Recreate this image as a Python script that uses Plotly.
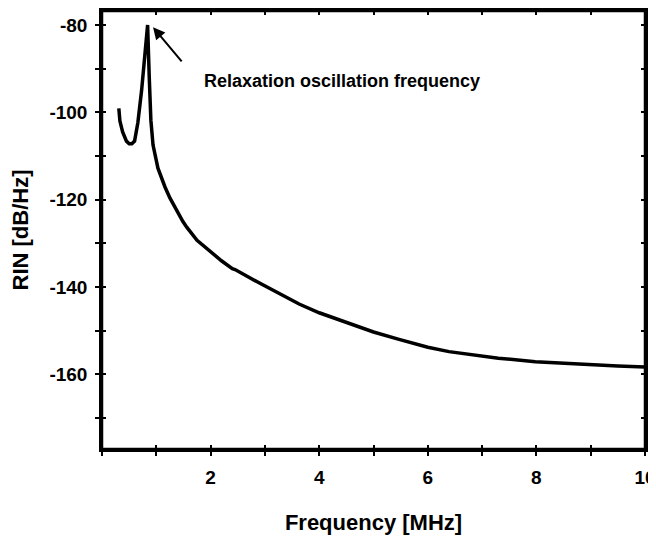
import plotly.graph_objects as go

# RIN spectrum
FREQ_MHZ = [
    0.31, 0.33, 0.38, 0.45, 0.50, 0.55, 0.60, 0.66, 0.73, 0.79, 0.84,
    0.87, 0.90, 0.94, 1.03, 1.16, 1.25, 1.49, 1.56, 1.75, 1.98, 2.20,
    2.40, 2.45, 2.90, 3.32, 3.63, 4.00, 4.55, 5.00, 5.47, 6.00, 6.39,
    7.30, 7.98, 8.90, 9.50, 10.00,
]
RIN_DB = [
    -99.1, -102.0, -104.5, -106.6, -107.2, -107.2, -106.6, -102.4, -94.9, -85.7, -80.0,
    -91.9, -101.8, -107.5, -112.8, -117.1, -119.6, -125.0, -126.3, -129.3, -131.8, -134.0,
    -135.8, -136.0, -139.1, -141.8, -143.9, -145.9, -148.4, -150.3, -152.0, -153.8, -154.8,
    -156.3, -157.1, -157.8, -158.1, -158.3,
]

X_TICKS = [0, 1, 2, 3, 4, 5, 6, 7, 8, 9, 10]
X_TICK_TEXT = ["", "", "2", "", "4", "", "6", "", "8", "", "10"]
Y_TICKS = [-170, -160, -150, -140, -130, -120, -110, -100, -90, -80]
Y_TICK_TEXT = ["", "-160", "", "-140", "", "-120", "", "-100", "", "-80"]

X_RANGE = [0, 10]
Y_RANGE = [-177.1, -76.8]

PEAK_LABEL = "Relaxation oscillation frequency"
FONT = "Arial, 'Liberation Sans', sans-serif"


def main():
    fig = go.Figure()
    fig.add_trace(go.Scatter(
        x=FREQ_MHZ, y=RIN_DB, mode="lines",
        line=dict(color="black", width=3.5),
        showlegend=False,
    ))
    # invisible trace so the second (inside-tick) axes get drawn
    fig.add_trace(go.Scatter(
        x=[X_RANGE[0]], y=[Y_RANGE[0]], xaxis="x2", yaxis="y2",
        mode="markers", marker=dict(opacity=0), showlegend=False, hoverinfo="skip",
    ))

    tick_font = dict(family=FONT, size=19, color="black", weight="bold")
    title_font = dict(family=FONT, size=22, color="black", weight="bold")
    frame = dict(showline=True, linecolor="black", linewidth=2.5, mirror="ticks")

    # page body has an 8px margin, so the figure is 8px smaller than the window
    fig.update_layout(
        width=648, height=528,
        margin=dict(l=94, r=11, t=3, b=87),
        paper_bgcolor="white", plot_bgcolor="white",
        xaxis=dict(
            range=X_RANGE, tickvals=X_TICKS, ticktext=X_TICK_TEXT, **frame,
            ticks="outside", ticklen=4, tickwidth=2, tickcolor="black",
            showgrid=False, zeroline=False, tickfont=tick_font,
            ticklabelstandoff=5, automargin=False, ticklabeloverflow="allow",
            title=dict(text="Frequency [MHz]", font=title_font, standoff=29),
        ),
        yaxis=dict(
            range=Y_RANGE, tickvals=Y_TICKS, ticktext=Y_TICK_TEXT, **frame,
            ticks="outside", ticklen=4, tickwidth=2, tickcolor="black",
            showgrid=False, zeroline=False, tickfont=tick_font,
            ticklabelstandoff=4, automargin=False,
            title=dict(text="RIN [dB/Hz]", font=title_font, standoff=15),
        ),
        xaxis2=dict(
            range=X_RANGE, tickvals=X_TICKS, overlaying="x", side="bottom", **frame,
            ticks="inside", ticklen=4, tickwidth=2, tickcolor="black",
            showticklabels=False, showgrid=False, zeroline=False, automargin=False,
        ),
        yaxis2=dict(
            range=Y_RANGE, tickvals=Y_TICKS, overlaying="y", side="left", **frame,
            ticks="inside", ticklen=4, tickwidth=2, tickcolor="black",
            showticklabels=False, showgrid=False, zeroline=False, automargin=False,
        ),
        # plot frame
        shapes=[dict(
            type="rect", xref="paper", yref="paper", x0=0, y0=0, x1=1, y1=1,
            line=dict(color="black", width=2.5), fillcolor="rgba(0,0,0,0)",
        )],
        annotations=[
            dict(
                x=0.94, y=-80.5, ax=1.49, ay=-88.7,
                xref="x", yref="y", axref="x", ayref="y",
                showarrow=True, arrowhead=2, arrowsize=1.2, arrowwidth=2,
                arrowcolor="black", text="",
            ),
            dict(
                x=1.85, y=-92.8, xref="x", yref="y",
                xanchor="left", yanchor="middle", showarrow=False,
                text=PEAK_LABEL,
                font=dict(family=FONT, size=18, color="black", weight="bold"),
            ),
        ],
    )

    fig.write_html("out.html")


if __name__ == "__main__":
    main()
